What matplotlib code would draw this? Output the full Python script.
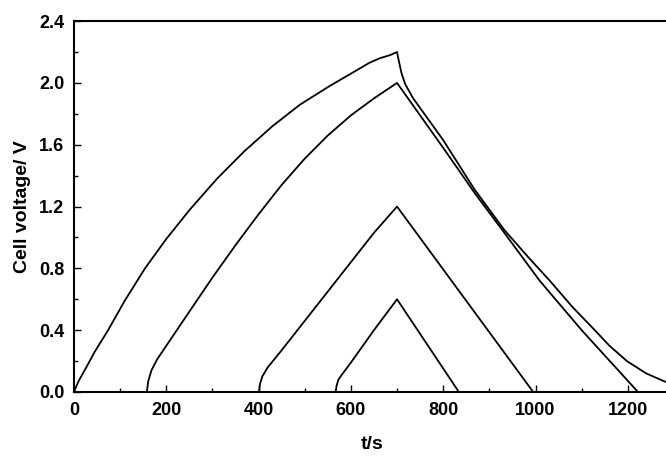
import matplotlib.pyplot as plt
import numpy as np

plt.rcParams['font.family'] = ['Liberation Sans', 'DejaVu Sans']
plt.rcParams['font.weight'] = 'bold'

# Charge / discharge curves (t in s, voltage in V)
t_22 = [0, 10, 25, 45, 74, 110, 154, 200, 251, 310, 370, 430, 490, 554, 600, 640, 663, 685, 700,
        704, 710, 718, 735, 800, 868, 932, 985, 1031, 1080, 1122, 1160, 1198, 1240, 1282, 1300]
v_22 = [0, 0.07, 0.15, 0.26, 0.40, 0.59, 0.80, 0.99, 1.18, 1.38, 1.56, 1.72, 1.86, 1.98, 2.06, 2.13, 2.16, 2.18, 2.20,
        2.14, 2.06, 1.99, 1.90, 1.63, 1.31, 1.05, 0.87, 0.72, 0.55, 0.42, 0.30, 0.20, 0.12, 0.065, 0.05]

t_20 = [158, 161, 168, 180, 250, 300, 350, 400, 450, 500, 550, 600, 650, 700,
        800, 870, 930, 1009, 1100, 1222]
v_20 = [0, 0.07, 0.14, 0.21, 0.52, 0.74, 0.95, 1.15, 1.34, 1.51, 1.66, 1.79, 1.90, 2.00,
        1.58, 1.28, 1.04, 0.72, 0.40, 0]

t_12 = [401, 403, 408, 420, 450, 500, 550, 600, 650, 700, 995]
v_12 = [0, 0.05, 0.10, 0.16, 0.27, 0.46, 0.65, 0.84, 1.03, 1.20, 0]

t_06 = [567, 569, 573, 580, 600, 650, 700, 834]
v_06 = [0, 0.04, 0.08, 0.11, 0.19, 0.40, 0.60, 0]

fig = plt.figure(figsize=(6.66, 4.59), dpi=100)
ax = fig.add_axes([0.111, 0.146, 0.901, 0.808])

for t, v in [(t_22, v_22), (t_20, v_20), (t_12, v_12), (t_06, v_06)]:
    ax.plot(t, v, color='black', lw=1.3)

ax.set_xlim(0, 1300)
ax.set_ylim(0, 2.4)
ax.set_xticks(np.arange(0, 1201, 200))
ax.set_xticks(np.arange(0, 1301, 100), minor=True)
ax.set_yticks(np.arange(0, 2.41, 0.4))
ax.set_yticks(np.arange(0, 2.41, 0.2), minor=True)
ax.set_yticklabels(['%.1f' % y for y in np.arange(0, 2.41, 0.4)])

ax.tick_params(which='both', direction='in', labelsize=13, width=1.0)
ax.tick_params(which='major', length=5, pad=7)
ax.tick_params(which='minor', length=3)
for s in ax.spines.values():
    s.set_linewidth(1.5)

ax.set_xlabel('t/s', fontsize=14, fontweight='bold')
ax.set_ylabel('Cell voltage/ V', fontsize=14, fontweight='bold')
ax.xaxis.set_label_coords(0.497, -0.12)
ax.yaxis.set_label_coords(-0.072, 0.5)

fig.savefig('out.png', dpi=100)
